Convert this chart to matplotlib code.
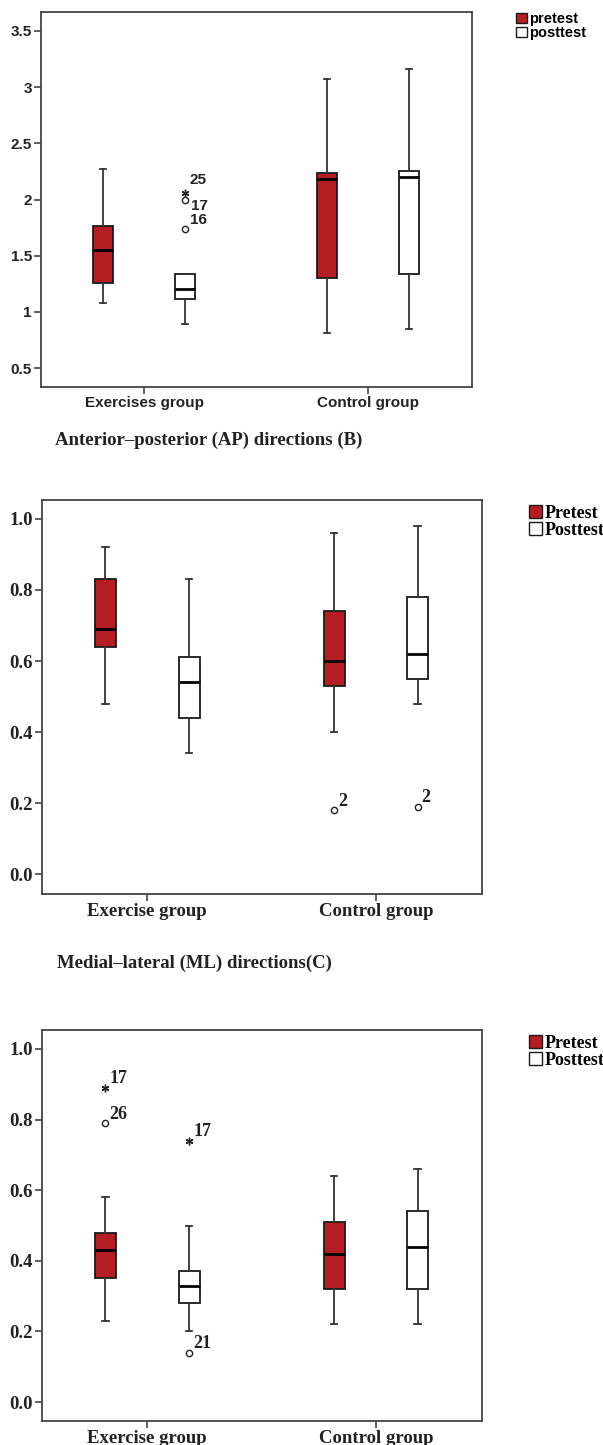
import matplotlib
matplotlib.use('Agg')
import matplotlib.pyplot as plt
from matplotlib.patches import Patch

# group labels
groups_a = ['Exercises group', 'Control group']
groups_bc = ['Exercise group', 'Control group']
series_a = ['pretest', 'posttest']
series_bc = ['Pretest', 'Posttest']

# box summaries (whislo, q1, median, q3, whishi); order: exercise pre, exercise post, control pre, control post
a_boxes = [[1.08, 1.26, 1.55, 1.76, 2.27],
           [0.89, 1.11, 1.20, 1.34, 1.34],
           [0.81, 1.30, 2.18, 2.24, 3.07],
           [0.85, 1.34, 2.20, 2.25, 3.16]]
b_boxes = [[0.48, 0.64, 0.69, 0.83, 0.92],
           [0.34, 0.44, 0.54, 0.61, 0.83],
           [0.40, 0.53, 0.60, 0.74, 0.96],
           [0.48, 0.55, 0.62, 0.78, 0.98]]
c_boxes = [[0.23, 0.35, 0.43, 0.48, 0.58],
           [0.20, 0.28, 0.33, 0.37, 0.50],
           [0.22, 0.32, 0.42, 0.51, 0.64],
           [0.22, 0.32, 0.44, 0.54, 0.66]]

# outliers: (box index, value, kind, case label)
a_outliers = [(1, 1.74, 'o', '16'), (1, 2.00, 'o', '17'), (1, 2.06, '*', '25')]
b_outliers = [(2, 0.18, 'o', '2'), (3, 0.19, 'o', '2')]
c_outliers = [(0, 0.89, '*', '17'), (0, 0.79, 'o', '26'),
              (1, 0.74, '*', '17'), (1, 0.14, 'o', '21')]

a_ticks = [0.5, 1, 1.5, 2, 2.5, 3, 3.5]
a_ticklabels = ['0.5', '1', '1.5', '2', '2.5', '3', '3.5']
bc_ticks = [0.0, 0.2, 0.4, 0.6, 0.8, 1.0]
bc_ticklabels = ['0.0', '0.2', '0.4', '0.6', '0.8', '1.0']

RED = '#B41E22'
EDGE = '#1a1a1a'
SANS = 'Liberation Sans'
SERIF = 'Liberation Serif'

W, H = 603, 1445
fig = plt.figure(figsize=(W / 100, H / 100), dpi=100)


def px_axes(left, top, right, bottom):
    return fig.add_axes([left / W, 1 - bottom / H, (right - left) / W, (bottom - top) / H])


def draw_panel(ax, boxes, outliers, ylim, ticks, ticklabels, groups, family, fs, lab_fs, nudges=None):
    offs = [-0.183, 0.183]
    stats, pos, colors = [], [], []
    for i, b in enumerate(boxes):
        g, s = divmod(i, 2)
        stats.append(dict(whislo=b[0], q1=b[1], med=b[2], q3=b[3], whishi=b[4], fliers=[]))
        pos.append(g + offs[s])
        colors.append(RED if s == 0 else 'white')
    bp = ax.bxp(stats, positions=pos, widths=0.092, patch_artist=True, showfliers=False,
                boxprops=dict(edgecolor=EDGE, linewidth=1.3),
                medianprops=dict(color='black', linewidth=2.0),
                whiskerprops=dict(color='#333333', linewidth=1.3),
                capprops=dict(color='#333333', linewidth=1.3), capwidths=0.03)
    for patch, c in zip(bp['boxes'], colors):
        patch.set_facecolor(c)

    for k, (idx, val, kind, lab) in enumerate(outliers):
        x = pos[idx]
        if kind == 'o':
            ax.plot(x, val, 'o', ms=4.5, mfc='white', mec='#222222', mew=1.0, zorder=4)
        else:
            ax.plot(x, val, marker=(6, 2, 0), ms=5.5, color='#222222', mew=1.0, zorder=4)
        dx, dy = (4, 9) if nudges is None else nudges[k]
        ax.annotate(lab, (x, val), xytext=(dx, dy), textcoords='offset pixels',
                    ha='left', va='center', fontsize=lab_fs, fontweight='bold',
                    family=family, color='#222222')

    ax.set_xlim(-0.46, 1.464)
    ax.set_ylim(*ylim)
    ax.set_xticks([0, 1])
    ax.set_xticklabels(groups, fontsize=fs, fontweight='bold', family=family, color='#222222')
    ax.set_yticks(ticks)
    ax.set_yticklabels(ticklabels, fontsize=fs, fontweight='bold', family=family, color='#222222')
    ax.tick_params(axis='both', direction='out', length=5, width=1.2, color='#444444', pad=1.5)
    for sp in ax.spines.values():
        sp.set_color('#444444')
        sp.set_linewidth(1.3)


def add_legend(labels, family, fs, x, y):
    handles = [Patch(facecolor=RED, edgecolor=EDGE, linewidth=1.0),
               Patch(facecolor='white', edgecolor=EDGE, linewidth=1.0)]
    fig.legend(handles, labels, loc='upper left', bbox_to_anchor=(x / W, 1 - y / H),
               frameon=False, borderpad=0, handlelength=0.7, handleheight=0.7,
               handletextpad=0.15, labelspacing=0.0,
               prop=dict(family=family, weight='bold', size=fs))


# panel A (top)
ax1 = px_axes(41, 12, 472, 387)
draw_panel(ax1, a_boxes, a_outliers, (0.331, 3.669), a_ticks, a_ticklabels, groups_a, SANS, 11, 11,
           nudges=[(5, 9), (6, -6), (4, 13)])
add_legend(series_a, SANS, 10.5, 509, 5)

fig.text(55 / W, 1 - 440 / H, 'Anterior\u2013posterior (AP) directions (B)', family=SERIF,
         fontweight='bold', fontsize=13.5, va='center', ha='left', color='#222222')

# panel B (middle)
ax2 = px_axes(42, 500, 482, 894)
draw_panel(ax2, b_boxes, b_outliers, (-0.0563, 1.0535), bc_ticks, bc_ticklabels, groups_bc, SERIF, 13.5, 13)
add_legend(series_bc, SERIF, 13, 520, 496)

fig.text(57 / W, 1 - 963 / H, 'Medial\u2013lateral (ML) directions(C)', family=SERIF,
         fontweight='bold', fontsize=13.5, va='center', ha='left', color='#222222')

# panel C (bottom)
ax3 = px_axes(42, 1030, 482, 1421)
draw_panel(ax3, c_boxes, c_outliers, (-0.0535, 1.0535), bc_ticks, bc_ticklabels, groups_bc, SERIF, 13.5, 13)
add_legend(series_bc, SERIF, 13, 520, 1026)

plt.savefig('out.png', dpi=100)
